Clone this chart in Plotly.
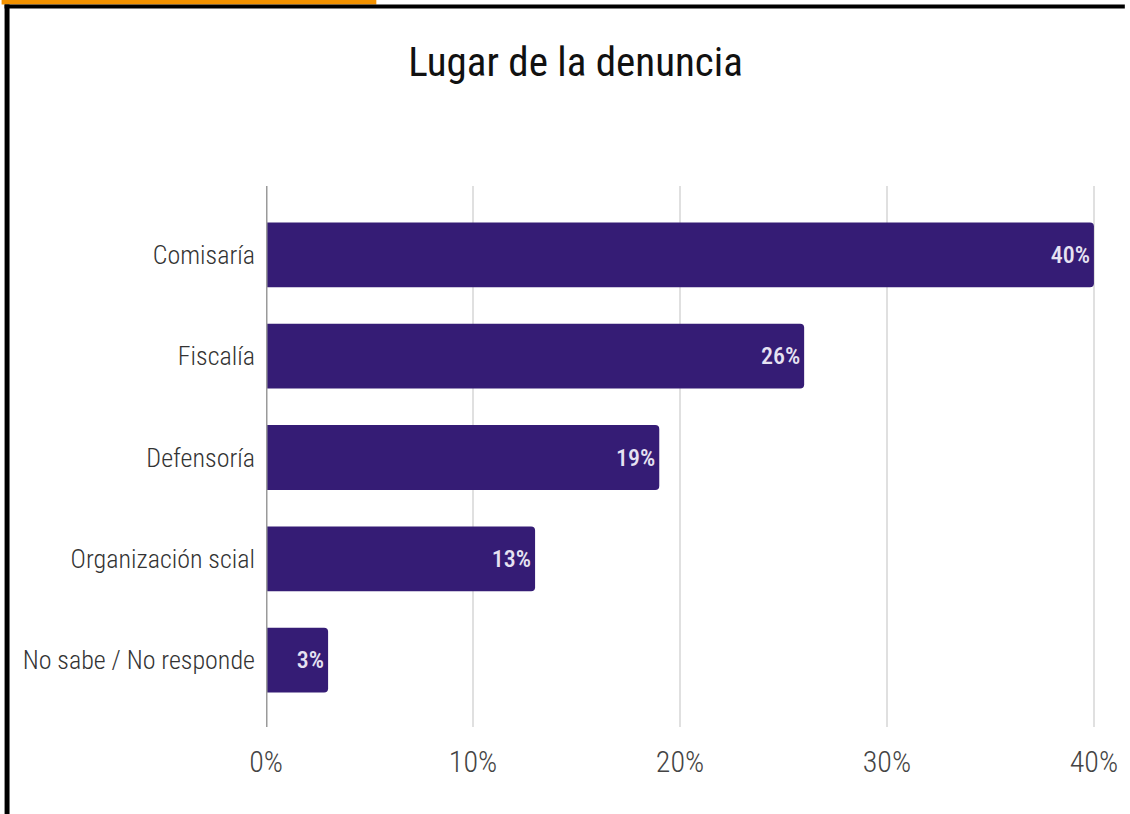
import plotly.graph_objects as go

categories = ["Comisaría", "Fiscalía", "Defensoría", "Organización scial", "No sabe / No responde"]
values = [40, 26, 19, 13, 3]
labels = ["40%", "26%", "19%", "13%", "3%"]
x_ticks = [0, 10, 20, 30, 40]
x_ticktext = ["0%", "10%", "20%", "30%", "40%"]

W, H = 1130, 814
L, R, T, B = 266, 29, 186, 87
FONT = "Roboto Condensed, Liberation Sans Narrow, sans-serif"

fig = go.Figure(go.Bar(
    y=categories, x=values, orientation="h",
    text=labels, textposition="inside", insidetextanchor="end",
    textfont=dict(family=FONT, size=24, color="#e6e2f2", weight=500),
    marker=dict(color="#351c75", cornerradius=4, line=dict(width=0)),
    width=0.64, hoverinfo="skip",
))

def px_x(p):
    return (p - L) / (W - L - R)

def px_y(p):
    return 1 - (p - T) / (H - T - B)

shapes = [
    dict(type="rect", xref="paper", yref="paper", x0=px_x(0), x1=px_x(377), y0=px_y(0), y1=px_y(4.5),
         fillcolor="#f39200", line=dict(width=0), layer="above"),
    dict(type="rect", xref="paper", yref="paper", x0=px_x(3), x1=px_x(W), y0=px_y(4.5), y1=px_y(8.5),
         fillcolor="#000000", line=dict(width=0), layer="above"),
    dict(type="rect", xref="paper", yref="paper", x0=px_x(3), x1=px_x(8), y0=px_y(H), y1=px_y(4.5),
         fillcolor="#000000", line=dict(width=0), layer="above"),
]

fig.update_layout(
    width=W, height=H,
    margin=dict(l=L, r=R, t=T, b=B, pad=0),
    paper_bgcolor="white", plot_bgcolor="white",
    showlegend=False,
    title=dict(text="Lugar de la denuncia", x=575.5 / W, xref="container", xanchor="center",
               y=1 - 62 / H, yref="container", yanchor="middle",
               font=dict(family=FONT, size=41, color="#111111")),
    shapes=shapes,
    bargap=0.36,
)
fig.update_xaxes(
    range=[0, 40.1], tickvals=x_ticks, ticktext=x_ticktext,
    showgrid=True, gridcolor="#e0e0e0", gridwidth=2,
    zeroline=False, showline=False,
    ticks="", ticklabelstandoff=14,
    tickfont=dict(family=FONT, size=30, color="#444444", weight=300),
    fixedrange=True,
)
fig.update_yaxes(
    categoryorder="array", categoryarray=categories,
    range=[4.66, -0.68],
    showgrid=False, zeroline=False,
    showline=False, ticks="", ticklabelstandoff=10,
    tickfont=dict(family=FONT, size=26, color="#333333", weight=300),
    fixedrange=True,
)
fig.add_shape(type="line", xref="x", yref="paper", x0=0, x1=0, y0=0, y1=1,
              line=dict(color="#9a9a9a", width=3), layer="above")

fig.write_html("out.html", config={"displayModeBar": False},
               post_script="document.body.style.margin='0';")
